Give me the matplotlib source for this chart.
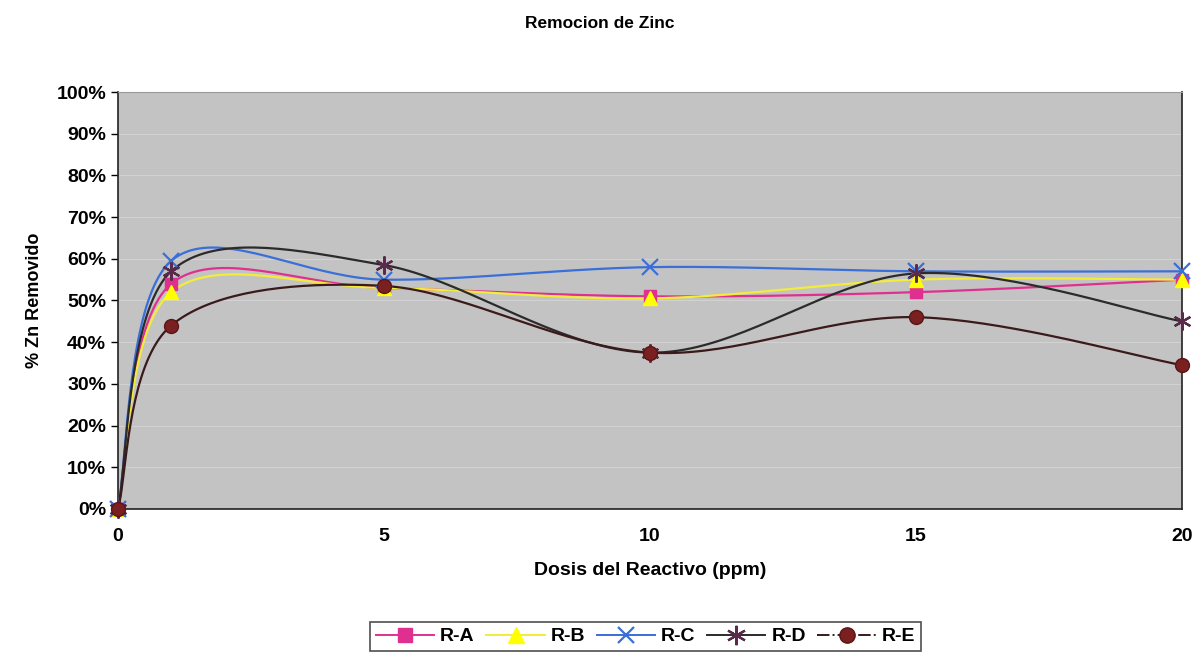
import numpy as np
import matplotlib.pyplot as plt
from matplotlib.lines import Line2D

plt.rcParams['font.family'] = ['Liberation Sans', 'DejaVu Sans']
plt.rcParams['font.weight'] = 'bold'

# ---------- Data ----------
dosis = [0, 1, 5, 10, 15, 20]
r_a = [0.0, 0.54, 0.53, 0.51, 0.52, 0.55]
r_b = [0.0, 0.52, 0.53, 0.505, 0.55, 0.55]
r_c = [0.0, 0.595, 0.55, 0.58, 0.57, 0.57]
r_d = [0.0, 0.57, 0.585, 0.375, 0.565, 0.45]
r_e = [0.0, 0.44, 0.535, 0.375, 0.46, 0.345]

labels = ["R-A", "R-B", "R-C", "R-D", "R-E"]
yticks = np.arange(0, 1.01, 0.1)
xticks = [0, 5, 10, 15, 20]


def smooth(x, y, n=40):
    """Bezier smoothing through the points (spreadsheet style)."""
    x = np.asarray(x, float)
    y = np.asarray(y, float)
    px = np.concatenate([[x[0]], x, [x[-1]]])
    py = np.concatenate([[y[0]], y, [y[-1]]])
    xs, ys = [], []
    t = np.linspace(0, 1, n)
    for i in range(1, len(px) - 2):
        p0 = np.array([px[i], py[i]])
        p3 = np.array([px[i + 1], py[i + 1]])
        p1 = p0 + (np.array([px[i + 1], py[i + 1]]) - np.array([px[i - 1], py[i - 1]])) / 6
        p2 = p3 - (np.array([px[i + 2], py[i + 2]]) - np.array([px[i], py[i]])) / 6
        b = ((1 - t) ** 3)[:, None] * p0 + (3 * (1 - t) ** 2 * t)[:, None] * p1 \
            + (3 * (1 - t) * t ** 2)[:, None] * p2 + (t ** 3)[:, None] * p3
        xs.append(b[:, 0])
        ys.append(b[:, 1])
    return np.concatenate(xs), np.concatenate(ys)


styles = [
    dict(color="#e0308f", marker="s", mfc="#e0308f", mec="#e0308f", ms=9),
    dict(color="#f2ec3a", marker="^", mfc="#ffff00", mec="#ffff00", ms=10),
    dict(color="#3a6fd8", marker="x", mfc="none", mec="#3a6fd8", ms=11, mew=1.6),
    dict(color="#2b2b2b", marker=(6, 2, 0), mfc="none", mec="#5a2a4a", ms=13, mew=1.6),
    dict(color="#3a1a1a", marker="o", mfc="#7b2020", mec="#5a1515", ms=10),
]

fig = plt.figure(figsize=(12, 6.6), dpi=100)
ax = fig.add_axes([0.0983, 0.2288, 0.8867, 0.6318])
ax.set_facecolor("#c3c3c3")

series = [r_a, r_b, r_c, r_d, r_e]
for vals, st, lab in zip(series, styles, labels):
    sx, sy = smooth(dosis, vals)
    ax.plot(sx, sy, color=st["color"], lw=1.6, zorder=3)
    ax.plot(dosis, vals, ls="none", marker=st["marker"], mfc=st["mfc"],
            mec=st["mec"], ms=st["ms"], mew=st.get("mew", 1.0), zorder=4,
            clip_on=False)

ax.set_xlim(0, 20)
ax.set_ylim(0, 1)
ax.set_xticks(xticks)
ax.set_yticks(yticks)
ax.set_yticklabels([f"{int(round(v * 100))}%" for v in yticks])
ax.tick_params(axis="both", labelsize=14, direction="out", length=5, width=1)
ax.tick_params(axis="x", length=0, pad=14)
ax.grid(axis="y", color="#d2d2d2", lw=0.8)
ax.set_axisbelow(True)
for side in ["left", "right", "bottom"]:
    ax.spines[side].set_color("#222222")
    ax.spines[side].set_linewidth(1.2)
ax.spines["top"].set_color("#9a9a9a")

ax.set_xlabel("Dosis del Reactivo (ppm)", fontsize=14, fontweight="bold", labelpad=12)
ax.set_ylabel("% Zn Removido", fontsize=13, fontweight="bold", labelpad=10)
fig.suptitle("Remocion de Zinc", fontsize=12.5, fontweight="bold", y=0.975)

handles = []
for st, lab in zip(styles, labels):
    handles.append(Line2D([0], [0], color=st["color"], lw=1.4, marker=st["marker"],
                          mfc=st["mfc"], mec=st["mec"], ms=st["ms"] + 1,
                          mew=st.get("mew", 1.0), label=lab))
handles[4].set_linestyle("-.")
leg = fig.legend(handles=handles, loc="center", bbox_to_anchor=(0.538, 0.0355), ncol=5,
                 fontsize=14, frameon=True, fancybox=False, edgecolor="#222222",
                 handlelength=3.0, columnspacing=0.6, handletextpad=0.3,
                 borderpad=0.3)
leg.get_frame().set_linewidth(1.2)

fig.savefig("out.png", dpi=100)
